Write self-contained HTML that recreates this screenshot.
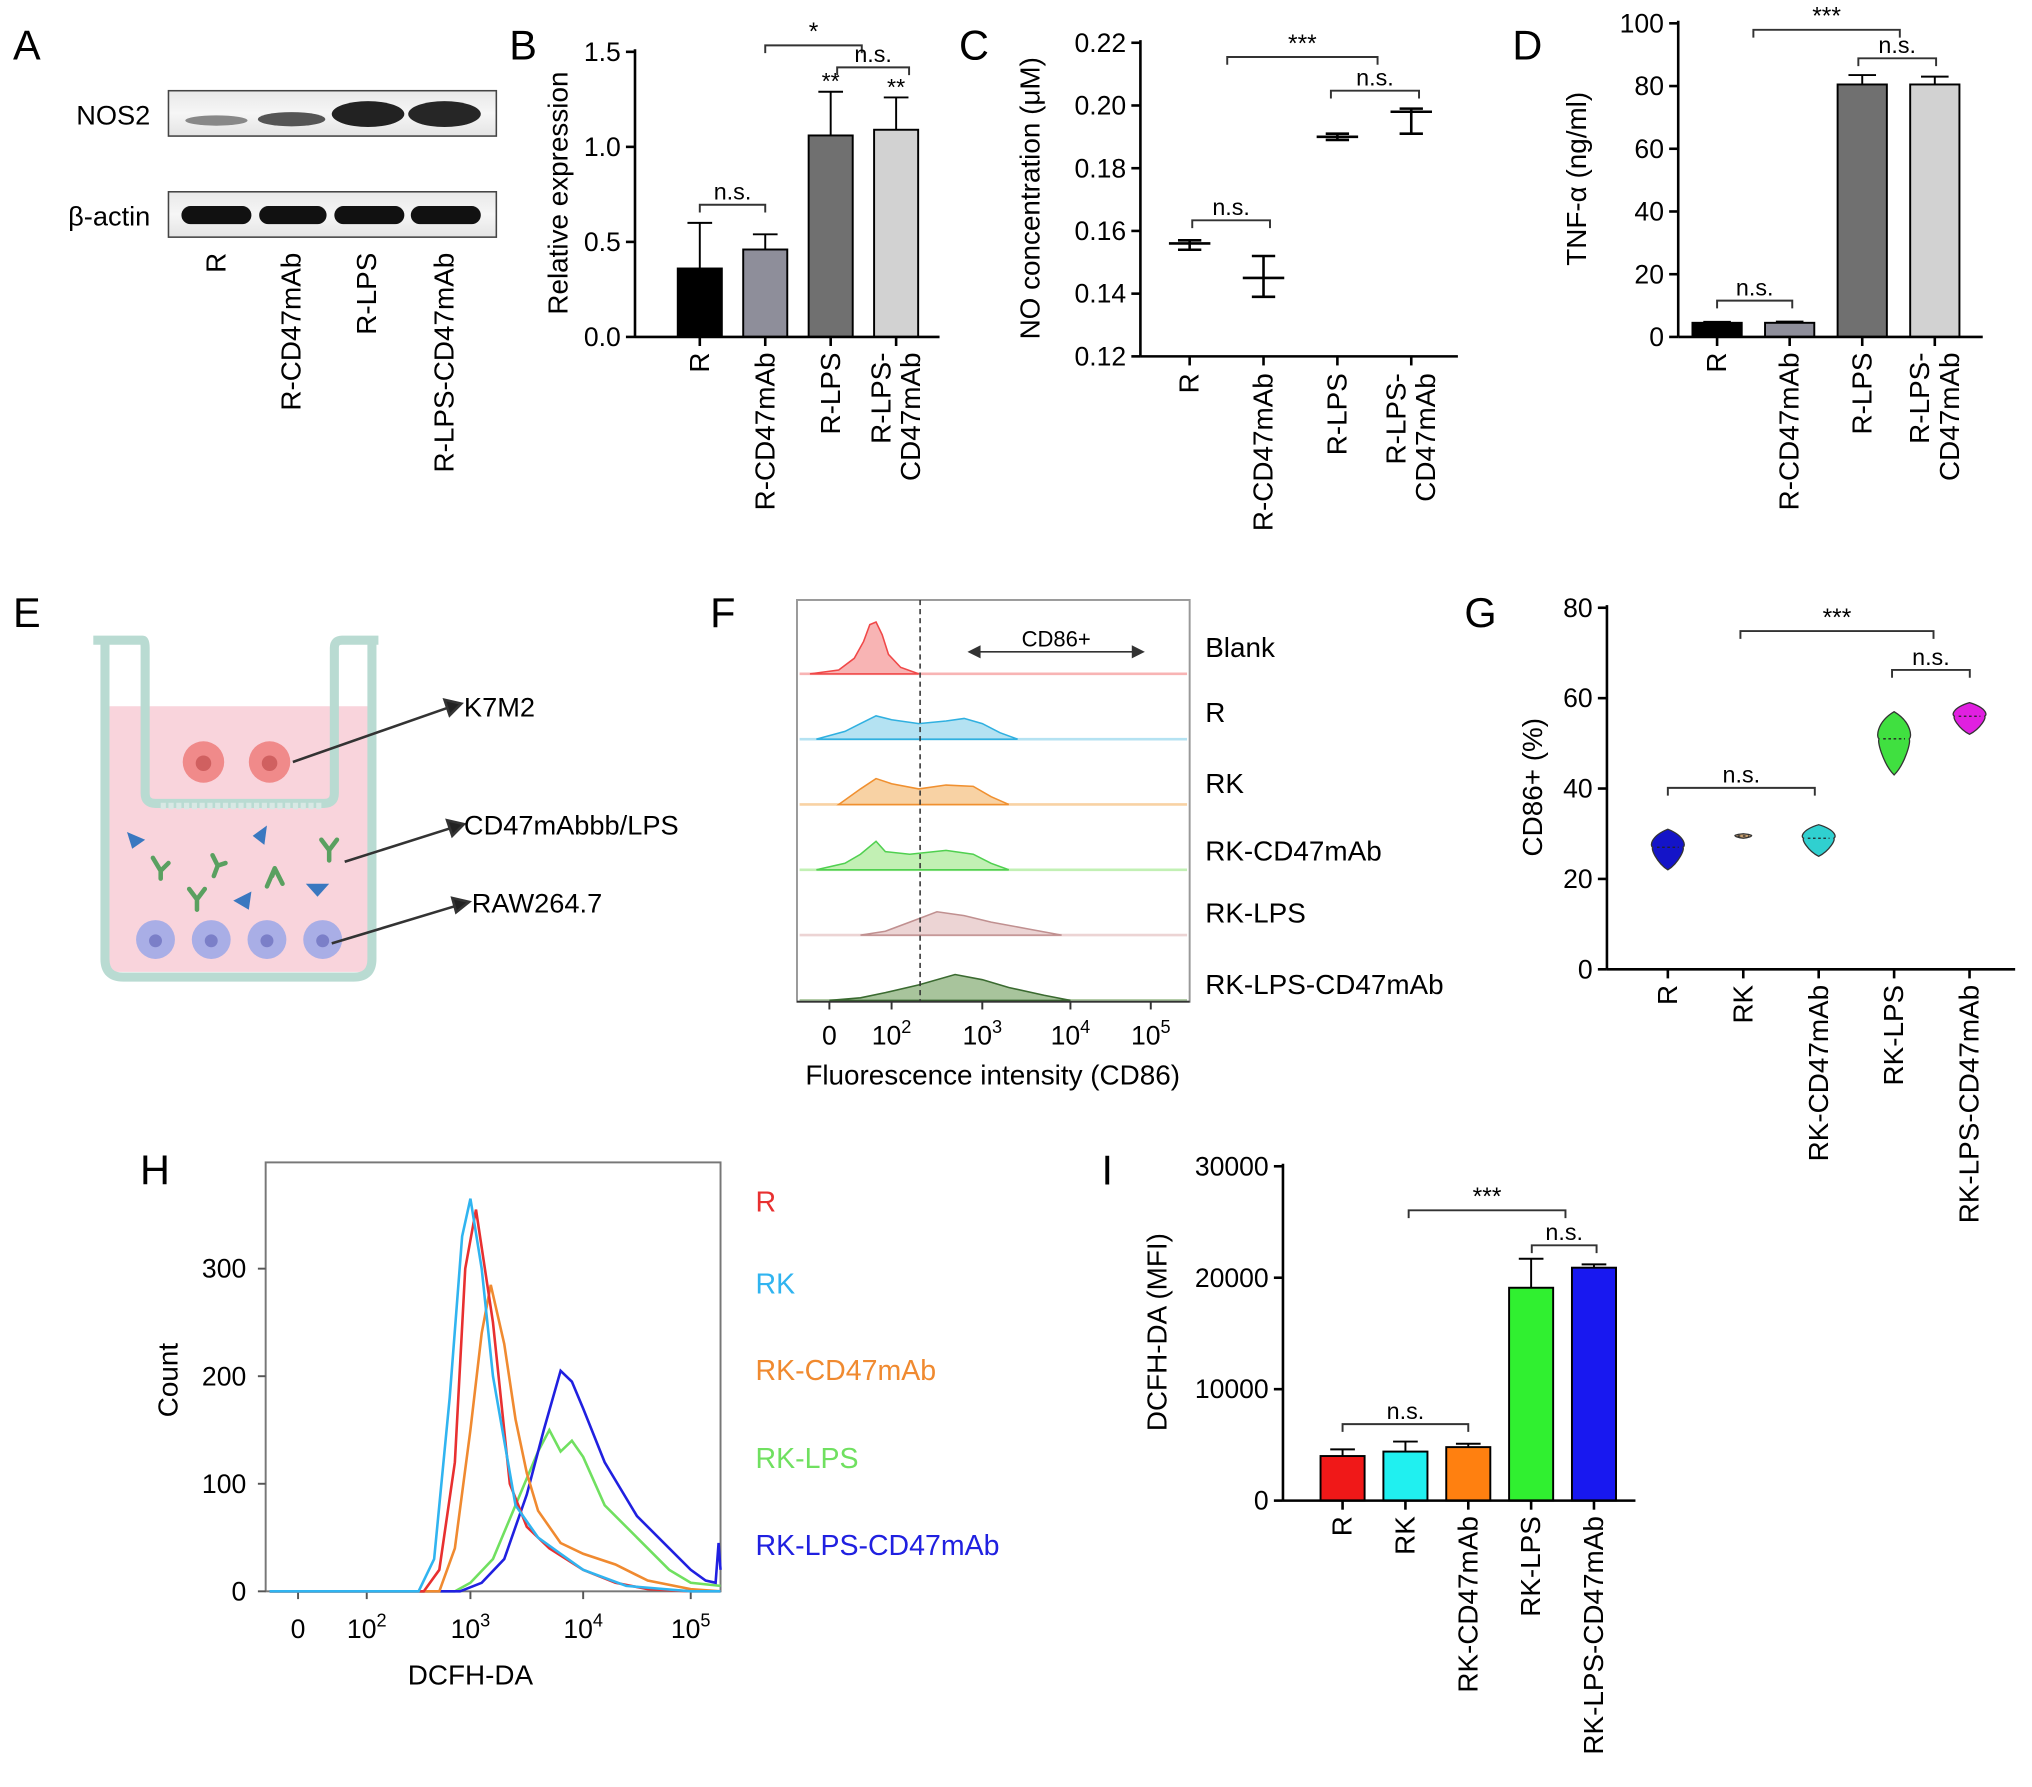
<!DOCTYPE html>
<html><head><meta charset="utf-8"><style>
html,body{margin:0;padding:0;background:#fff;}
svg{display:block;font-family:"Liberation Sans",Arial,sans-serif;}
</style></head><body>
<svg id="fig" width="2032" height="1787" viewBox="0 0 1568 1379" preserveAspectRatio="none" xmlns="http://www.w3.org/2000/svg">
<g font-size="32" fill="#000">
<text x="10" y="46">A</text>
<text x="393" y="46">B</text>
<text x="740" y="46">C</text>
<text x="1167" y="46">D</text>
<text x="10" y="484">E</text>
<text x="548" y="484">F</text>
<text x="1130" y="484">G</text>
<text x="108" y="914">H</text>
<text x="850" y="914">I</text>
</g>
<g>
<defs>
<linearGradient id="blotbg" x1="0" y1="0" x2="0" y2="1"><stop offset="0" stop-color="#e8e8e8"/><stop offset="0.5" stop-color="#f6f6f6"/><stop offset="1" stop-color="#e4e4e4"/></linearGradient>
</defs>
<rect x="130" y="70" width="253" height="35" fill="url(#blotbg)" stroke="#444" stroke-width="1.2"/>
<ellipse cx="167" cy="93" rx="24" ry="4" fill="#888"/>
<ellipse cx="225" cy="92" rx="26" ry="5.5" fill="#555"/>
<ellipse cx="284" cy="88" rx="28" ry="10" fill="#222"/>
<ellipse cx="343" cy="88" rx="28" ry="10" fill="#262626"/>
<rect x="130" y="148" width="253" height="35" fill="url(#blotbg)" stroke="#444" stroke-width="1.2"/>
<rect x="140" y="159" width="54" height="14" rx="7" fill="#111"/>
<rect x="200" y="159" width="52" height="14" rx="7" fill="#111"/>
<rect x="258" y="159" width="54" height="14" rx="7" fill="#111"/>
<rect x="317" y="159" width="54" height="14" rx="7" fill="#111"/>
<text x="116" y="96" font-size="21" text-anchor="end">NOS2</text>
<text x="116" y="174" font-size="21" text-anchor="end">β-actin</text>
<g font-size="21.5" text-anchor="end">
<text transform="translate(174,195) rotate(-90)">R</text>
<text transform="translate(232,195) rotate(-90)">R-CD47mAb</text>
<text transform="translate(290,195) rotate(-90)">R-LPS</text>
<text transform="translate(350,195) rotate(-90)">R-LPS-CD47mAb</text>
</g>
</g>
<g>
<rect x="84" y="545" width="200" height="205" fill="#f9d4dc"/>
<path d="M81,497 L81,740 Q81,754 95,754 L273,754 Q287,754 287,740 L287,497" fill="none" stroke="#b9dbd2" stroke-width="7" stroke-linejoin="round"/>
<path d="M72,494 L110,494 Q112,494 112,500 L112,612 Q112,620 120,620 L250,620 Q258,620 258,612 L258,500 Q258,494 264,494 L292,494" fill="none" stroke="#b9dbd2" stroke-width="7" stroke-linejoin="round"/>
<line x1="124" y1="622" x2="248" y2="622" stroke="#d8e8e4" stroke-width="5" stroke-dasharray="4,2"/>
<g>
<circle cx="157" cy="588" r="16" fill="#f08a8a"/><circle cx="157" cy="589" r="6" fill="#d06060"/>
<circle cx="208" cy="588" r="16" fill="#f08a8a"/><circle cx="208" cy="589" r="6" fill="#d06060"/>
</g>
<g>
<circle cx="120" cy="725" r="15" fill="#a9aee6"/><circle cx="120" cy="726" r="5" fill="#7b7fc8"/>
<circle cx="163" cy="725" r="15" fill="#a9aee6"/><circle cx="163" cy="726" r="5" fill="#7b7fc8"/>
<circle cx="206" cy="725" r="15" fill="#a9aee6"/><circle cx="206" cy="726" r="5" fill="#7b7fc8"/>
<circle cx="249" cy="725" r="15" fill="#a9aee6"/><circle cx="249" cy="726" r="5" fill="#7b7fc8"/>
</g>
<g fill="#3a78c0">
<polygon points="98,642 112,648 102,655"/><polygon points="195,645 206,637 204,652"/>
<polygon points="236,682 254,682 245,692"/><polygon points="180,695 194,688 192,702"/>
</g>
<g stroke="#5aa060" stroke-width="3.5" fill="none" stroke-linecap="round">
<path d="M118,662 L124,672 L124,678 M124,672 L130,666"/><path d="M164,660 L168,668 L165,676 M168,668 L174,666"/>
<path d="M146,686 L152,694 L152,702 M152,694 L158,686"/><path d="M210,676 L212,670 M212,670 L206,684 M212,670 L218,682"/>
<path d="M248,648 L254,656 L254,664 M254,656 L260,648"/>
</g>
<g stroke="#333" stroke-width="2" fill="#222">
<line x1="226" y1="588" x2="346" y2="546"/><polygon points="356,543 343,540 347,552"/>
<line x1="266" y1="665" x2="348" y2="639"/><polygon points="358,636 345,633 349,645"/>
<line x1="256" y1="728" x2="352" y2="699"/><polygon points="362,696 349,693 352,704"/>
</g>
<g font-size="21">
<text x="358" y="553">K7M2</text>
<text x="358" y="644">CD47mAbbb/LPS</text>
<text x="364" y="704">RAW264.7</text>
</g>
</g>
<g id="charts"></g>
</svg>
<script>
const bCats = ['R','R-CD47mAb','R-LPS','R-LPS-\nCD47mAb'];
const bVals = [0.36,0.46,1.06,1.09];
const bErrs = [0.60,0.54,1.29,1.26];
const bTicks = [0,0.5,1.0,1.5];
const cCats = ['R','R-CD47mAb','R-LPS','R-LPS-\nCD47mAb'];
const cMeans = [0.156,0.145,0.190,0.198];
const cLow = [0.154,0.139,0.189,0.191];
const cHigh = [0.157,0.152,0.191,0.199];
const cTicks = [0.12,0.14,0.16,0.18,0.20,0.22];
const dCats = ['R','R-CD47mAb','R-LPS','R-LPS-\nCD47mAb'];
const dVals = [4.5,4.5,80.5,80.5];
const dErrs = [4.8,4.9,83.5,83];
const dTicks = [0,20,40,60,80,100];
const fRows = ['Blank','R','RK','RK-CD47mAb','RK-LPS','RK-LPS-CD47mAb'];
const fBlank = [[-0.3,0],[0.3,3],[0.8,12],[1.1,25],[1.3,38],[1.5,40],[1.7,30],[1.9,15],[2.1,5],[2.3,0]];
const fR = [[-0.2,0],[0.5,6],[1,12],[1.5,18],[2,15],[2.3,12],[2.6,14],[2.8,16],[3.0,12],[3.2,5],[3.4,0]];
const fRK = [[0.3,0],[1,12],[1.5,20],[2,16],[2.3,12],[2.6,15],[2.9,14],[3.1,6],[3.3,0]];
const fRKC = [[-0.2,0],[0.5,5],[1,12],[1.5,22],[1.8,14],[2.2,12],[2.6,15],[2.9,12],[3.1,5],[3.3,0]];
const fRKL = [[1,0],[1.8,3],[2.2,10],[2.5,18],[2.8,15],[3.1,10],[3.5,5],[3.9,0]];
const fRKLC = [[0,0],[1,2],[1.8,6],[2.3,12],[2.7,20],[3.0,16],[3.3,10],[3.7,4],[4.0,0]];
const gCats = ['R','RK','RK-CD47mAb','RK-LPS','RK-LPS-CD47mAb'];
const gMed = [27,29.5,29,51,56];
const gMin = [22,29,25,43,52];
const gMax = [31,30,32,57,59];
const gTicks = [0,20,40,60,80];
const hSeriesNames = ['R','RK','RK-CD47mAb','RK-LPS','RK-LPS-CD47mAb'];
const hR = [[1.5,0],[2.55,0],[2.7,20],[2.85,120],[2.95,300],[3.05,355],[3.2,250],[3.35,100],[3.5,60],[3.7,40],[4.0,20],[4.3,8],[4.6,2],[5.0,0],[5.3,0]];
const hRK = [[1.5,0],[2.5,0],[2.65,30],[2.8,180],[2.92,330],[3.0,365],[3.1,300],[3.2,200],[3.4,80],[3.6,50],[3.8,35],[4.0,20],[4.4,5],[5.0,0],[5.3,0]];
const hRKC = [[1.5,0],[2.7,0],[2.85,40],[3.0,150],[3.1,240],[3.18,285],[3.3,230],[3.4,160],[3.5,110],[3.6,75],[3.8,45],[4.0,35],[4.3,25],[4.6,10],[5.0,2],[5.3,0]];
const hRKL = [[1.5,0],[2.85,0],[3.0,8],[3.2,30],[3.4,80],[3.6,130],[3.7,150],[3.8,130],[3.9,140],[4.0,125],[4.2,80],[4.5,50],[4.8,20],[5.0,8],[5.3,5]];
const hRKLC = [[1.5,0],[2.9,0],[3.1,8],[3.3,30],[3.5,90],[3.65,150],[3.8,205],[3.9,195],[4.0,170],[4.2,120],[4.5,70],[4.8,40],[5.0,20],[5.15,10],[5.25,8],[5.28,45],[5.3,20]];
const hTicks = [0,100,200,300];
const iCats = ['R','RK','RK-CD47mAb','RK-LPS','RK-LPS-CD47mAb'];
const iVals = [4000,4400,4800,19100,20900];
const iErrs = [4600,5300,5100,21700,21200];
const iTicks = [0,10000,20000,30000];

const NS='http://www.w3.org/2000/svg';
const root=document.getElementById('charts');
const TICK=20.5, LAB=21.5;
function el(tag,attrs,parent){const e=document.createElementNS(NS,tag);for(const k in attrs)e.setAttribute(k,attrs[k]);(parent||root).appendChild(e);return e;}
function lin(d0,d1,r0,r1){return v=>r0+(v-d0)/(d1-d0)*(r1-r0);}
function pw(dom,rng){return v=>{for(let i=0;i<dom.length-1;i++){if(v<=dom[i+1]||i===dom.length-2){return rng[i]+(v-dom[i])/(dom[i+1]-dom[i])*(rng[i+1]-rng[i]);}}};}
function fmt(v,dec){return dec?v.toFixed(dec):String(v);}
function yAxis(name,x,y0,y1,ticks,ys,dec,label,lx){
  const g=el('g',{});
  
  
  el('line',{x1:x,y1:y0,x2:x,y2:y1,stroke:'#000','stroke-width':2},g);
  ticks.forEach(t=>{
    el('line',{x1:x-7,y1:ys(t),x2:x,y2:ys(t),stroke:'#000','stroke-width':2},g);
    const tx=el('text',{x:x-11,y:ys(t)+7,'font-size':TICK,'text-anchor':'end'},g);
    tx.textContent=fmt(t,dec);
    
    
  });
  const cy=(y0+y1)/2;
  const tl=el('text',{transform:`translate(${lx},${cy}) rotate(-90)`,'font-size':LAB,'text-anchor':'middle'},root);
  tl.textContent=label;
  
  
}
function xAxis(name,x0,x1,y,cats,xs,top){
  const g=el('g',{});
  
  
  el('line',{x1:x0,y1:y,x2:x1,y2:y,stroke:'#000','stroke-width':2},g);
  cats.forEach((c,i)=>{
    const cx=xs(i);
    el('line',{x1:cx,y1:y,x2:cx,y2:y+7,stroke:'#000','stroke-width':2},g);
    const lines=c.split('\n');
    lines.forEach((ln,j)=>{
      const off=(j-(lines.length-1)/2)*23+7;
      const t=el('text',{transform:`translate(${cx+off},${top}) rotate(-90)`,'font-size':LAB,'text-anchor':'end'},g);
      t.textContent=ln;
      
      
    });
  });
}
function sig(name,x1,x2,y,label){
  const g=el('g',{});
  
  
  el('path',{d:`M${x1},${y+6}L${x1},${y}L${x2},${y}L${x2},${y+6}`,fill:'none',stroke:'#333','stroke-width':1.5},g);
  const t=el('text',{x:(x1+x2)/2,y:y-4,'font-size':label==='n.s.'?18:19,'text-anchor':'middle'},g);
  t.textContent=label;
}
function bars(name,cats,vals,errs,xs,ys,w,colors,stroke){
  cats.forEach((c,i)=>{
    const cx=xs(i);
    const e=el('line',{x1:cx,y1:ys(vals[i]),x2:cx,y2:ys(errs[i]),stroke:'#000','stroke-width':1.5});
    
    
    const cap=el('line',{x1:cx-w*0.28,y1:ys(errs[i]),x2:cx+w*0.28,y2:ys(errs[i]),stroke:'#000','stroke-width':1.5});
    
    
    const r=el('rect',{x:cx-w/2,y:ys(vals[i]),width:w,height:ys(0)-ys(vals[i]),fill:colors[i],stroke:stroke,'stroke-width':1.5});
    
    
  });
}
function logTick(t,x,y,v,sup){
  if(sup===''){t.textContent='0';}else{t.textContent='10';const s=el('tspan',{dy:-9,'font-size':14},t);s.textContent=sup;}
}

{
  const ys=lin(0,1.5,260,40), xs=i=>540+i*50.5;
  yAxis('panel-b',490,260,38,bTicks,ys,1,'Relative expression',438);
  bars('panel-b',bCats,bVals,bErrs,xs,ys,34,['#000','#8e8e9a','#707070','#d2d2d2'],'#000');
  xAxis('panel-b',490,725,260,bCats,xs,272);
  sig('panel-b-sig-ns-1',xs(0),xs(1),158,'n.s.');
  sig('panel-b-sig-star',xs(1),xs(2)+24,35,'*');
  sig('panel-b-sig-ns-2',xs(2)+5,xs(3)+10,52,'n.s.');
  [2,3].forEach(i=>{const t=el('text',{x:xs(i),y:ys(bErrs[i])-2,'font-size':18,'text-anchor':'middle'});t.textContent='**';
  
  });
}
{
  const ys=lin(0.12,0.22,275,33), xs=i=>918+i*57;
  yAxis('panel-c',880,275,31,cTicks,ys,2,'NO concentration (μM)',802);
  xAxis('panel-c',880,1125,275,cCats,xs,288);
  cCats.forEach((c,i)=>{
    const cx=xs(i);
    const g=el('g',{stroke:'#000','stroke-width':2});
    
    
    el('line',{x1:cx,y1:ys(cLow[i]),x2:cx,y2:ys(cHigh[i])},g);
    el('line',{x1:cx-16,y1:ys(cMeans[i]),x2:cx+16,y2:ys(cMeans[i])},g);
    el('line',{x1:cx-9,y1:ys(cLow[i]),x2:cx+9,y2:ys(cLow[i])},g);
    el('line',{x1:cx-9,y1:ys(cHigh[i]),x2:cx+9,y2:ys(cHigh[i])},g);
  });
  sig('panel-c-sig-ns-1',xs(0)+2,xs(1)+5,170,'n.s.');
  sig('panel-c-sig-stars',947,1063,44,'***');
  sig('panel-c-sig-ns-2',1027,1095,70,'n.s.');
}
{
  const ys=lin(0,100,260,18), xs=i=>1325+i*56;
  yAxis('panel-d',1295,260,16,dTicks,ys,0,'TNF-α (ng/ml)',1224);
  bars('panel-d',dCats,dVals,dErrs,xs,ys,38,['#000','#8e8e9a','#707070','#d2d2d2'],'#000');
  xAxis('panel-d',1295,1530,260,dCats,xs,272);
  sig('panel-d-sig-ns-1',xs(0),xs(1)+2,232,'n.s.');
  sig('panel-d-sig-stars',1353,1466,23,'***');
  sig('panel-d-sig-ns-2',1434,1494,45,'n.s.');
}
{
  const xs=pw([-0.5,0,2,3,4,5,5.4],[615,640,688,758,826,888,918]);
  const box=el('rect',{x:615,y:463,width:303,height:310,fill:'none',stroke:'#999','stroke-width':1.5});
  
  
  const series=[fBlank,fR,fRK,fRKC,fRKL,fRKLC];
  const strokes=['#f04848','#30b0e0','#f09030','#50d050','#c09090','#3a6a30'];
  const fills=['#f8b4b4','#b4e2f2','#f8d2a4','#c2f0b4','#ecd4d4','#a8c49c'];
  const labY=[500,550,605,657,705,760];
  fRows.forEach((r,i)=>{
    const base=520+i*50.4;
    const bl=el('line',{x1:617,y1:base,x2:916,y2:base,stroke:fills[i],'stroke-width':2});
    
    
    let d=`M${xs(series[i][0][0])},${base}`;
    series[i].forEach(p=>{d+=`L${xs(p[0]).toFixed(1)},${(base-p[1]).toFixed(1)}`;});
    d+=`L${xs(series[i][series[i].length-1][0])},${base}Z`;
    const p=el('path',{d:d,fill:fills[i],stroke:strokes[i],'stroke-width':1.2});
    
    
    const t=el('text',{x:930,y:labY[i]+7,'font-size':LAB});
    t.textContent=r;
    
    
  });
  const dl=el('line',{x1:710,y1:463,x2:710,y2:773,stroke:'#333','stroke-width':1.2,'stroke-dasharray':'4,3'});
  
  
  const ar=el('g',{stroke:'#333','stroke-width':1.3,fill:'#333'});
  
  
  el('line',{x1:752,y1:503,x2:878,y2:503},ar);
  el('polygon',{points:'748,503 756,499 756,507'},ar);
  el('polygon',{points:'882,503 874,499 874,507'},ar);
  const ct=el('text',{x:815,y:499,'font-size':17,'text-anchor':'middle'});
  ct.textContent='CD86+';
  
  
  const ax=el('line',{x1:615,y1:773,x2:918,y2:773,stroke:'#333','stroke-width':1.5});
  
  
  [[0,''],[2,'2'],[3,'3'],[4,'4'],[5,'5']].forEach(tk=>{
    const x=xs(tk[0]);
    const tl=el('line',{x1:x,y1:773,x2:x,y2:779,stroke:'#333','stroke-width':1.5});
    
    
    const t=el('text',{x:x,y:806,'font-size':TICK,'text-anchor':'middle'});
    logTick(t,x,806,tk[0],tk[1]);
    
    
  });
  const xl=el('text',{x:766,y:837,'font-size':LAB,'text-anchor':'middle'});
  xl.textContent='Fluorescence intensity (CD86)';
  
  
}
{
  const ys=lin(0,80,748,469), xs=i=>1287+i*58.2;
  yAxis('panel-g',1240,748,467,gTicks,ys,0,'CD86+ (%)',1190);
  xAxis('panel-g',1240,1555,748,gCats,xs,760);
  const cols=['#1414c8','#c8a070','#30d0d0','#40e040','#e020e0'];
  gCats.forEach((c,i)=>{
    const cx=xs(i), top=ys(gMax[i]), bot=ys(gMin[i]), mid=ys(gMed[i]);
    const w=Math.min(14,(bot-top)*0.9+4);
    const d=`M${cx},${top} C${cx+w},${top+(mid-top)*0.4} ${cx+w},${mid} ${cx+w*0.8},${mid} C${cx+w},${mid} ${cx+w*0.6},${bot-(bot-mid)*0.3} ${cx},${bot} C${cx-w*0.6},${bot-(bot-mid)*0.3} ${cx-w},${mid} ${cx-w*0.8},${mid} C${cx-w},${mid} ${cx-w},${top+(mid-top)*0.4} ${cx},${top}Z`;
    const v=el('path',{d:d,fill:cols[i],stroke:'#333','stroke-width':1});
    
    
    const m=el('line',{x1:cx-w*0.6,y1:mid,x2:cx+w*0.6,y2:mid,stroke:'#222','stroke-width':1,'stroke-dasharray':'2,2'});
    
    
  });
  sig('panel-g-sig-ns-1',xs(0),xs(2)-3,608,'n.s.');
  sig('panel-g-sig-stars',1343,1492,487,'***');
  sig('panel-g-sig-ns-2',1460,1520,517,'n.s.');
}
{
  const xs=pw([1,2,3,4,5,5.3],[230,283,363,450,533,556]);
  const ys=lin(0,300,1228,979);
  const fr=el('rect',{x:205,y:897,width:351,height:331,fill:'none',stroke:'#777','stroke-width':1.5});
  
  
  hTicks.forEach(t=>{
    const tk=el('line',{x1:199,y1:ys(t),x2:205,y2:ys(t),stroke:'#555','stroke-width':1.5});
    
    
    const tx=el('text',{x:190,y:ys(t)+7,'font-size':TICK,'text-anchor':'end'});
    tx.textContent=String(t);
    
    
  });
  [[1,''],[2,'2'],[3,'3'],[4,'4'],[5,'5']].forEach(tk=>{
    const x=xs(tk[0]);
    const tl=el('line',{x1:x,y1:1228,x2:x,y2:1234,stroke:'#555','stroke-width':1.5});
    
    
    const t=el('text',{x:x,y:1264,'font-size':TICK,'text-anchor':'middle'});
    logTick(t,x,1264,tk[0],tk[1]);
    
    
  });
  const yl=el('text',{transform:'translate(137,1065) rotate(-90)','font-size':LAB,'text-anchor':'middle'});
  yl.textContent='Count';
  
  
  const xl=el('text',{x:363,y:1300,'font-size':LAB,'text-anchor':'middle'});
  xl.textContent='DCFH-DA';
  
  
  const series=[hR,hRK,hRKC,hRKL,hRKLC];
  const cols=['#e83030','#30b4f0','#f08a30','#70e060','#2020e0'];
  const order=[3,4,2,0,1];
  order.forEach(i=>{
    let d='M208,1228';
    series[i].forEach(p=>{d+=`L${xs(p[0]).toFixed(1)},${ys(p[1]).toFixed(1)}`;});
    const p=el('path',{d:d,fill:'none',stroke:cols[i],'stroke-width':2});
    
    
  });
  const ly=[928,991,1058,1126,1193];
  hSeriesNames.forEach((n,i)=>{
    const t=el('text',{x:583,y:ly[i]+7,'font-size':22,fill:cols[i]});
    t.textContent=n;
    
    
  });
}
{
  const ys=lin(0,30000,1158,900), xs=i=>1036+i*48.5;
  yAxis('panel-i',990,1158,898,iTicks,ys,0,'DCFH-DA (MFI)',900);
  bars('panel-i',iCats,iVals,iErrs,xs,ys,34,['#f01818','#20f0f0','#ff8010','#30f030','#1818f0'],'#000');
  xAxis('panel-i',990,1262,1158,iCats,xs,1170);
  sig('panel-i-sig-ns-1',xs(0),xs(2),1099,'n.s.');
  sig('panel-i-sig-stars',1087,1208,934,'***');
  sig('panel-i-sig-ns-2',1182,1232,961,'n.s.');
}
</script>
</body></html>
